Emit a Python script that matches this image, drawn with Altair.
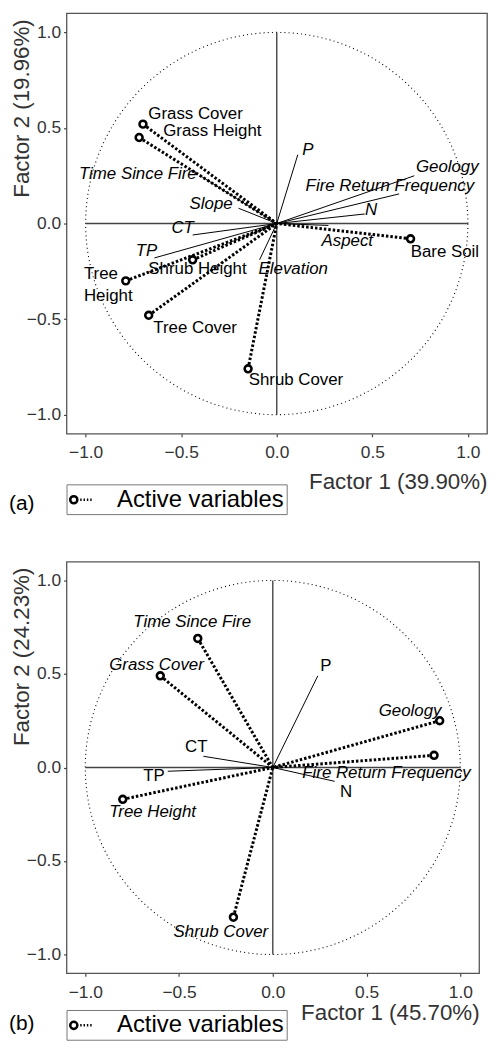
import altair as alt
import numpy as np
import pandas as pd

FONT = "Liberation Sans"

# ---------------- Panel (a) data ----------------
a_act_names = ["Grass Cover", "Grass Height", "Tree Height", "Shrub Height", "Tree Cover", "Shrub Cover", "Bare Soil"]
a_act_x = [-0.70, -0.72, -0.79, -0.44, -0.67, -0.15, 0.70]
a_act_y = [0.52, 0.45, -0.30, -0.19, -0.48, -0.76, -0.08]

a_sup_names = ["P", "Geology", "Fire Return Frequency", "N", "Aspect", "Elevation", "CT", "TP", "Slope", "Time Since Fire"]
a_sup_x = [0.11, 0.72, 0.64, 0.46, 0.27, -0.09, -0.44, -0.64, -0.20, -0.40]
a_sup_y = [0.36, 0.25, 0.155, 0.05, -0.01, -0.19, -0.06, -0.18, 0.08, 0.25]

# label anchors (left edge, vertical middle) in factor units
a_act_lab_text = ["Grass Cover", "Grass Height", "Tree", "Height", "Shrub Height", "Tree Cover", "Shrub Cover", "Bare Soil"]
a_act_lab_x = [-0.672, -0.594, -1.009, -1.009, -0.672, -0.646, -0.147, 0.701]
a_act_lab_y = [0.573, 0.482, -0.266, -0.380, -0.240, -0.545, -0.820, -0.148]

a_sup_lab_text = ["P", "Geology", "Fire Return Frequency", "N", "Aspect", "Elevation", "CT", "TP", "Slope", "Time Since Fire"]
a_sup_lab_x = [0.134, 0.728, 0.151, 0.462, 0.234, -0.095, -0.551, -0.738, -0.456, -1.035]
a_sup_lab_y = [0.386, 0.294, 0.195, 0.073, -0.092, -0.240, -0.026, -0.145, 0.104, 0.260]

# ---------------- Panel (b) data ----------------
b_act_names = ["Time Since Fire", "Grass Cover", "Tree Height", "Shrub Cover", "Geology", "Fire Return Frequency"]
b_act_x = [-0.40, -0.60, -0.80, -0.21, 0.89, 0.86]
b_act_y = [0.69, 0.49, -0.17, -0.80, 0.25, 0.065]

b_sup_names = ["P", "CT", "TP", "N"]
b_sup_x = [0.24, -0.37, -0.56, 0.33]
b_sup_y = [0.49, 0.06, -0.02, -0.074]

b_act_lab_text = ["Time Since Fire", "Grass Cover", "Tree Height", "Shrub Cover", "Geology", "Fire Return Frequency"]
b_act_lab_x = [-0.744, -0.872, -0.872, -0.529, 0.565, 0.157]
b_act_lab_y = [0.779, 0.550, -0.237, -0.880, 0.304, -0.030]

b_sup_lab_text = ["P", "CT", "TP", "N"]
b_sup_lab_x = [0.253, -0.468, -0.691, 0.359]
b_sup_lab_y = [0.544, 0.107, -0.044, -0.132]

tick_vals = [-1.0, -0.5, 0.0, 0.5, 1.0]
legend_label = "Active variables"

# legend symbol: open circle followed by a dotted line
SYMBOL = ("M-0.98,0A0.3,0.3 0 1,0 -0.38,0A0.3,0.3 0 1,0 -0.98,0Z"
          "M-0.14,0L-0.02,0M0.14,0L0.26,0M0.42,0L0.54,0M0.70,0L0.82,0")


def X(title, w, ty, field="x"):
    return alt.X(field, type="quantitative",
                 scale=alt.Scale(domain=[-1.1, 1.1], nice=False, zero=False),
                 axis=alt.Axis(values=tick_vals, format=".1f", title=title,
                               titleX=w, titleY=ty, titleAlign="right", titleBaseline="middle",
                               grid=False, domain=False))


def Y(field="y"):
    return alt.Y(field, type="quantitative",
                 scale=alt.Scale(domain=[-1.1, 1.1], nice=False, zero=False),
                 axis=alt.Axis(values=tick_vals, format=".1f", title=None,
                               grid=False, domain=False))


def panel(tag, xt, yt, act_n, act_x, act_y, sup_n, sup_x, sup_y,
          al_t, al_x, al_y, sl_t, sl_x, sl_y, act_italic, w, h, title_y, legend_y, tag_y):
    xe = X(xt, w, title_y)
    ye = Y()
    ang = np.linspace(0, 2 * np.pi, 361)
    circ = pd.DataFrame({"x": np.cos(ang), "y": np.sin(ang), "i": np.arange(361)})
    circle = alt.Chart(circ).mark_line(color="black", strokeWidth=1.1, strokeDash=[1, 3.2]).encode(
        x=xe, y=ye, order="i:Q")

    cross = pd.DataFrame({"x": [-1.0, 0.0], "y": [0.0, -1.0], "x2": [1.0, 0.0], "y2": [0.0, 1.0]})
    cross_l = alt.Chart(cross).mark_rule(color="#444", strokeWidth=1.4).encode(
        x=xe, y=ye, x2="x2", y2="y2")

    sup = pd.DataFrame({"name": sup_n, "x": sup_x, "y": sup_y, "o": 0.0})
    sup_l = alt.Chart(sup).mark_rule(color="black", strokeWidth=1).encode(
        x=xe, y=ye, x2="o", y2="o")

    act = pd.DataFrame({"name": act_n, "x": act_x, "y": act_y, "o": 0.0, "kind": legend_label})
    act_l = alt.Chart(act).mark_rule(color="black", strokeWidth=3, strokeDash=[2.5, 2]).encode(
        x=xe, y=ye, x2="o", y2="o")
    act_p = alt.Chart(act).mark_point(shape="circle", filled=True, fill="white", fillOpacity=1,
                                      strokeWidth=2.6, size=48, opacity=1).encode(
        x=xe, y=ye,
        stroke=alt.Stroke("kind:N", scale=alt.Scale(range=["black"]),
                          legend=alt.Legend(title=None, orient="none", legendX=0, legendY=legend_y,
                                            symbolType=SYMBOL, symbolSize=576, symbolStrokeWidth=2.5,
                                            symbolFillColor="white", labelFontSize=24, labelFont=FONT,
                                            labelColor="black", labelOffset=22, labelLimit=400,
                                            padding=2, strokeColor="#777", fillColor="white")))

    albl = pd.DataFrame({"t": al_t, "x": al_x, "y": al_y})
    slbl = pd.DataFrame({"t": sl_t, "x": sl_x, "y": sl_y})
    act_txt = alt.Chart(albl).mark_text(align="left", baseline="middle", fontSize=17, font=FONT,
                                        fontStyle="italic" if act_italic else "normal",
                                        color="black").encode(x=xe, y=ye, text="t:N")
    sup_txt = alt.Chart(slbl).mark_text(align="left", baseline="middle", fontSize=17, font=FONT,
                                        fontStyle="normal" if act_italic else "italic",
                                        color="black").encode(x=xe, y=ye, text="t:N")

    tag_t = alt.Chart(pd.DataFrame({"t": [tag]})).mark_text(
        align="left", baseline="middle", fontSize=21, font=FONT, color="black").encode(
        text="t:N", x=alt.value(-58), y=alt.value(tag_y))

    ytitle = alt.Chart(pd.DataFrame({"t": [yt]})).mark_text(
        align="right", baseline="middle", angle=270, fontSize=22.5, font=FONT, color="#333").encode(
        text="t:N", x=alt.value(-45), y=alt.value(6))

    return alt.layer(circle, cross_l, sup_l, act_l, act_p, act_txt, sup_txt, tag_t, ytitle).properties(
        width=w, height=h)


top = panel("(a)", "Factor 1 (39.90%)", "Factor 2 (19.96%)",
            a_act_names, a_act_x, a_act_y, a_sup_names, a_sup_x, a_sup_y,
            a_act_lab_text, a_act_lab_x, a_act_lab_y, a_sup_lab_text, a_sup_lab_x, a_sup_lab_y,
            False, 424, 424, 48, 475, 495)
bottom = panel("(b)", "Factor 1 (45.70%)", "Factor 2 (24.23%)",
               b_act_names, b_act_x, b_act_y, b_sup_names, b_sup_x, b_sup_y,
               b_act_lab_text, b_act_lab_x, b_act_lab_y, b_sup_lab_text, b_sup_lab_x, b_sup_lab_y,
               True, 416, 415, 40, 452, 466)

chart = alt.vconcat(top, bottom, spacing=129, bounds="flush").resolve_scale(
    stroke="independent").resolve_legend(stroke="independent").properties(
    padding=0
).configure_view(
    stroke="#555", strokeWidth=1.3
).configure_axis(
    labelFont=FONT, titleFont=FONT, labelFontSize=17.5, titleFontSize=22.5, titleFontWeight="normal",
    labelColor="#333", titleColor="#333", tickColor="#444", tickSize=3, tickWidth=1.2
).configure_axisX(
    labelPadding=7
).configure_axisY(
    labelPadding=3
)

chart.save("out.html", embed_options={"renderer": "svg", "actions": False})
